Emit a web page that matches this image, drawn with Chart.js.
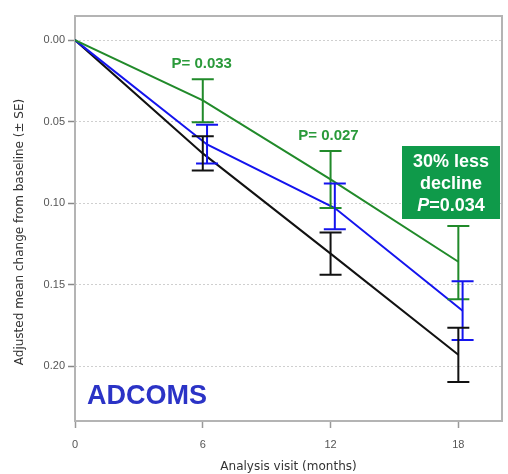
<!DOCTYPE html>
<html>
<head>
<meta charset="utf-8">
<script src="https://cdn.jsdelivr.net/npm/chart.js@4.4.1/dist/chart.umd.min.js"></script>
<style>
  html, body { margin: 0; padding: 0; background: #fff; }
  #wrap { width: 508px; height: 474px; }
</style>
</head>
<body>
<div id="wrap"><canvas id="chart" width="508" height="474"></canvas></div>
<script>
// analysis visits (months)
const visits = [0, 6, 12, 18];
const xTicks = [0, 6, 12, 18];
const yTicks = [0, 0.05, 0.10, 0.15, 0.20];

// adjusted mean change from baseline, with SE bounds
const placeboMean  = [0, 0.0695, 0.131, 0.193];
const placeboLow   = [0, 0.059, 0.118, 0.1765];
const placeboHigh  = [0, 0.080, 0.144, 0.2097];

const midDoseMean  = [0, 0.064, 0.103, 0.166];
const midDoseLow   = [0, 0.052, 0.088, 0.148];
const midDoseHigh  = [0, 0.0757, 0.116, 0.184];

const highDoseMean = [0, 0.037, 0.0855, 0.136];
const highDoseLow  = [0, 0.024, 0.068, 0.114];
const highDoseHigh = [0, 0.0504, 0.103, 0.159];

const pLabels = ['P= 0.033', 'P= 0.027'];

// small horizontal dodge so bars don't sit exactly on top of each other
function series(mean, shift) {
  return visits.map((v, i) => ({ x: v > 0 ? v + shift : v, y: mean[i] }));
}

const BLACK = '#111111';
const BLUE = '#1414ee';
const GREEN = '#218a2a';

// error bars drawn with the chart scales
const errorBars = {
  id: 'errorBars',
  afterDatasetsDraw(chart) {
    const { ctx, scales: { x, y } } = chart;
    chart.data.datasets.forEach((ds, di) => {
      if (!chart.isDatasetVisible(di)) return;
      ctx.save();
      ctx.strokeStyle = ds.borderColor;
      ctx.lineWidth = 2;
      ds.data.forEach((pt, i) => {
        const lo = ds.errLow[i], hi = ds.errHigh[i];
        if (lo === hi) return;
        const px = x.getPixelForValue(pt.x);
        const y1 = y.getPixelForValue(lo);
        const y2 = y.getPixelForValue(hi);
        ctx.beginPath();
        ctx.moveTo(px, y1); ctx.lineTo(px, y2);
        ctx.moveTo(px - 11, y1); ctx.lineTo(px + 11, y1);
        ctx.moveTo(px - 11, y2); ctx.lineTo(px + 11, y2);
        ctx.stroke();
      });
      ctx.restore();
    });
  }
};

// plot frame, titles and annotations
const decorations = {
  id: 'decorations',
  beforeDatasetsDraw(chart) {
    const { ctx, chartArea: a } = chart;
    ctx.save();
    ctx.strokeStyle = '#b4b4b4';
    ctx.lineWidth = 2;
    ctx.strokeRect(a.left, a.top, a.right - a.left, a.bottom - a.top);
    ctx.restore();
  },
  afterDraw(chart) {
    const { ctx, scales: { x, y } } = chart;
    ctx.save();
    // y axis title
    ctx.translate(20, 232);
    ctx.rotate(-Math.PI / 2);
    ctx.fillStyle = '#333';
    ctx.font = '12px "DejaVu Sans"';
    ctx.textAlign = 'center';
    ctx.textBaseline = 'middle';
    ctx.fillText('Adjusted mean change from baseline (\u00b1 SE)', 0, 0);
    ctx.restore();

    ctx.save();
    ctx.textAlign = 'center';
    ctx.textBaseline = 'middle';
    ctx.fillStyle = '#2a9a3a';
    ctx.font = 'bold 15px "Liberation Sans"';
    ctx.fillText(pLabels[0], x.getPixelForValue(5.95), y.getPixelForValue(0.0145));
    ctx.fillText(pLabels[1], x.getPixelForValue(11.9), y.getPixelForValue(0.0585));

    // green result box
    const bx = 402, by = 146, bw = 98, bh = 73;
    ctx.fillStyle = '#0f9a4a';
    ctx.fillRect(bx, by, bw, bh);
    ctx.fillStyle = '#fff';
    ctx.font = 'bold 18px "Liberation Sans"';
    const cx = bx + bw / 2;
    ctx.fillText('30% less', cx, by + 16);
    ctx.fillText('decline', cx, by + 38);
    ctx.font = 'italic bold 18px "Liberation Sans"';
    const pw = ctx.measureText('P').width;
    ctx.font = 'bold 18px "Liberation Sans"';
    const rw = ctx.measureText('=0.034').width;
    const sx = cx - (pw + rw) / 2;
    ctx.textAlign = 'left';
    ctx.font = 'italic bold 18px "Liberation Sans"';
    ctx.fillText('P', sx, by + 60);
    ctx.font = 'bold 18px "Liberation Sans"';
    ctx.fillText('=0.034', sx + pw, by + 60);

    // label
    ctx.fillStyle = '#2b33c6';
    ctx.font = 'bold 27px "Liberation Sans"';
    ctx.fillText('ADCOMS', 87, 397);
    ctx.restore();
  }
};

const datasets = [
  { label: 'High dose', data: series(highDoseMean, 0), errLow: highDoseLow, errHigh: highDoseHigh, borderColor: GREEN },
  { label: 'Mid dose', data: series(midDoseMean, 0.2), errLow: midDoseLow, errHigh: midDoseHigh, borderColor: BLUE },
  { label: 'Placebo', data: series(placeboMean, 0), errLow: placeboLow, errHigh: placeboHigh, borderColor: BLACK }
].map(d => Object.assign(d, {
  backgroundColor: d.borderColor,
  borderWidth: 2,
  pointRadius: 0,
  tension: 0,
  fill: false
}));

new Chart(document.getElementById('chart'), {
  type: 'line',
  data: { datasets },
  options: {
    responsive: false,
    animation: false,
    devicePixelRatio: 1,
    layout: { padding: { top: 16, right: 6, left: 0, bottom: 0 } },
    plugins: { legend: { display: false }, tooltip: { enabled: false } },
    scales: {
      x: {
        type: 'linear',
        min: 0,
        max: 20.05,
        afterBuildTicks: s => { s.ticks = xTicks.map(v => ({ value: v })); },
        afterFit: s => { s.height = 53; },
        grid: { drawOnChartArea: false, drawTicks: true, tickLength: 7, tickColor: '#999', tickWidth: 1.5 },
        border: { display: false },
        ticks: { color: '#555', font: { family: 'Liberation Sans', size: 11 }, padding: 10, maxRotation: 0 },
        title: { display: true, text: 'Analysis visit (months)', color: '#333', font: { family: 'DejaVu Sans', size: 12 }, padding: { top: 0, bottom: 0 } }
      },
      y: {
        type: 'linear',
        reverse: true,
        min: -0.0148,
        max: 0.2337,
        afterBuildTicks: s => { s.ticks = yTicks.map(v => ({ value: v })); },
        afterFit: s => { s.width = 75; },
        grid: { color: '#cfcfcf', lineWidth: 1, drawTicks: true, tickLength: 7, tickColor: '#888', tickWidth: 1.5 },
        border: { display: false, dash: [2, 2] },
        ticks: { color: '#555', font: { family: 'Liberation Sans', size: 11 }, padding: 3, callback: v => Number(v).toFixed(2) }
      }
    }
  },
  plugins: [decorations, errorBars]
});
</script>
</body>
</html>
